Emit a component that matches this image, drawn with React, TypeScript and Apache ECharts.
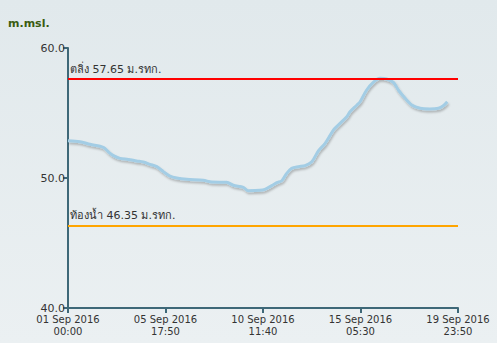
import React, { useEffect, useRef } from "react";
import * as echarts from "echarts";

const tickLabels = [
  "01 Sep 2016\n00:00",
  "05 Sep 2016\n17:50",
  "10 Sep 2016\n11:40",
  "15 Sep 2016\n05:30",
  "19 Sep 2016\n23:50",
];
// days since 01 Sep 2016 00:00
const dayOffsets = [
  0, 0.58, 1.07, 1.72, 1.96, 2.21, 2.53, 2.93, 3.34, 3.66, 3.99, 4.32, 4.64, 4.96, 5.29,
  5.77, 6.58, 6.99, 7.72, 8.04, 8.53, 8.77, 9.34, 9.58, 9.91, 10.16, 10.40, 10.64, 10.88,
  11.21, 11.53, 11.86, 12.18, 12.51, 12.91, 13.15, 13.56, 13.72, 14.06, 14.21, 14.53,
  14.85, 15.18, 15.50, 15.83, 16.07, 16.40, 16.72, 17.13, 17.61, 18.02, 18.26, 18.45,
];
const waterLevel = [
  52.87, 52.79, 52.59, 52.36, 52.02, 51.72, 51.51, 51.43, 51.31, 51.23, 51.05, 50.87,
  50.49, 50.15, 50.0, 49.9, 49.82, 49.69, 49.67, 49.44, 49.28, 49.02, 49.05, 49.13, 49.41,
  49.64, 49.79, 50.36, 50.74, 50.87, 50.95, 51.25, 52.08, 52.67, 53.69, 54.08, 54.72,
  55.1, 55.62, 55.87, 56.77, 57.36, 57.67, 57.62, 57.36, 56.77, 56.13, 55.62, 55.36,
  55.31, 55.36, 55.56, 55.87,
];
const bankLevel = 57.65;
const bedLevel = 46.35;
const bankLabel = "ตลิ่ง 57.65 ม.รทก.";
const bedLabel = "ท้องน้ำ 46.35 ม.รทก.";
const yUnit = "m.msl.";

export default function App() {
  const ref = useRef<HTMLDivElement>(null);
  useEffect(() => {
    if (!ref.current) return;
    const chart = echarts.init(ref.current, null, { renderer: "svg" });
    const interval = 6830 / 1440;
    const font = "DejaVu Sans, Noto Sans, sans-serif";
    chart.setOption({
      animation: false,
      backgroundColor: {
        type: "linear", x: 0, y: 0, x2: 0, y2: 1,
        colorStops: [
          { offset: 0, color: "#e1e9ec" },
          { offset: 1, color: "#ebf0f2" },
        ],
      },
      textStyle: { fontFamily: font },
      title: {
        text: yUnit,
        left: 3,
        top: 13,
        textStyle: { fontSize: 11, fontWeight: "bold", color: "#3a5c10", fontFamily: font },
      },
      grid: { left: 68, right: 39, top: 48, bottom: 35, containLabel: false },
      xAxis: {
        type: "value",
        min: 0,
        max: interval * 4,
        interval: interval,
        splitLine: { show: false },
        axisLine: { show: true, lineStyle: { color: "#3e6878", width: 2 } },
        axisTick: { show: true, length: 5, lineStyle: { color: "#3e6878", width: 2 } },
        axisLabel: {
          color: "#333",
          fontSize: 10,
          fontFamily: font,
          margin: 5,
          lineHeight: 12,
          showMinLabel: true,
          showMaxLabel: true,
          formatter: (v: number) => tickLabels[Math.round(v / interval)] ?? "",
        },
      },
      yAxis: {
        type: "value",
        min: 40,
        max: 60,
        interval: 10,
        splitLine: { show: false },
        axisLine: { show: true, lineStyle: { color: "#3e6878", width: 2 } },
        axisTick: { show: true, length: 5, lineStyle: { color: "#3e6878", width: 2 } },
        axisLabel: {
          color: "#333",
          fontSize: 11,
          fontFamily: font,
          margin: 3,
          formatter: (v: number) => v.toFixed(1),
        },
      },
      series: [
        {
          type: "line",
          data: dayOffsets.map((d, i) => [d, waterLevel[i]]),
          smooth: 0.3,
          showSymbol: false,
          lineStyle: {
            color: "#a3cde5",
            width: 3,
            shadowColor: "rgba(0,0,0,0.25)",
            shadowBlur: 2,
            shadowOffsetX: 1,
            shadowOffsetY: 2,
          },
          markLine: {
            symbol: "none",
            silent: true,
            data: [
              {
                yAxis: bankLevel,
                lineStyle: { color: "#ff0000", width: 2, type: "solid" },
                label: {
                  show: true,
                  position: "insideStartTop",
                  formatter: bankLabel,
                  color: "#333",
                  fontSize: 11,
                  fontFamily: font,
                  distance: [2, 4],
                },
              },
              {
                yAxis: bedLevel,
                lineStyle: { color: "#ffa500", width: 2, type: "solid" },
                label: {
                  show: true,
                  position: "insideStartTop",
                  formatter: bedLabel,
                  color: "#333",
                  fontSize: 11,
                  fontFamily: font,
                  distance: [2, 4],
                },
              },
            ],
          },
        },
      ],
    });
    return () => chart.dispose();
  }, []);
  return <div ref={ref} style={{ width: 497, height: 343, position: "absolute", left: 0, top: 0 }} />;
}
